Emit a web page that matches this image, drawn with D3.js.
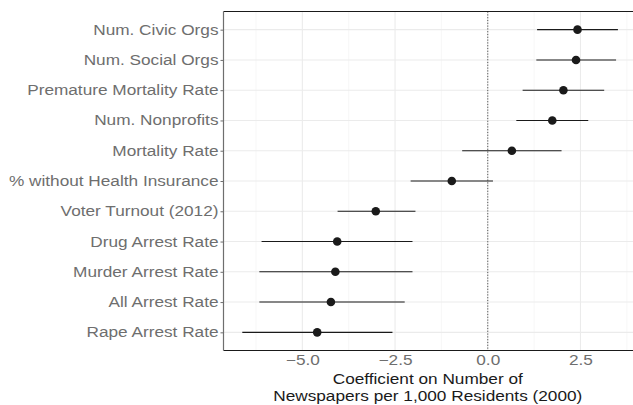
<!DOCTYPE html>
<html><head><meta charset="utf-8">
<script src="https://cdn.jsdelivr.net/npm/d3@7"></script>
<style>body{margin:0;background:#fff}svg{display:block}</style>
</head><body>
<svg id="c" width="633" height="405"></svg>
<script>
const categories = ["Num. Civic Orgs","Num. Social Orgs","Premature Mortality Rate","Num. Nonprofits","Mortality Rate","% without Health Insurance","Voter Turnout (2012)","Drug Arrest Rate","Murder Arrest Rate","All Arrest Rate","Rape Arrest Rate"];
const estimates = [2.42, 2.38, 2.04, 1.74, 0.65, -0.97, -3.02, -4.06, -4.11, -4.23, -4.60];
const lower = [1.33, 1.31, 0.94, 0.77, -0.69, -2.08, -4.05, -6.10, -6.16, -6.16, -6.62];
const upper = [3.51, 3.46, 3.14, 2.71, 1.99, 0.14, -1.95, -2.03, -2.03, -2.24, -2.57];
const xTicks = [-5.0, -2.5, 0.0, 2.5];
const xMinor = [-6.25, -3.75, -1.25, 1.25, 3.75];
const xTitle = ["Coefficient on Number of", "Newspapers per 1,000 Residents (2000)"];

const svg = d3.select("#c");
const L = 223.5, R = 636.7, T = 11.5, B = 350.5;
const SX = 1.23;
const lo = d3.min(lower), hi = d3.max(upper), pad = (hi - lo) * 0.05;
const x = d3.scaleLinear().domain([lo - pad, hi + pad]).range([L, R]);
const y = d3.scalePoint().domain(categories).range([T, B]).padding(0.6);
const font = "'Liberation Sans', Arial, sans-serif";

const g = svg.append("g");
g.selectAll(".gmin").data(xMinor).enter().append("line")
  .attr("x1", d => x(d)).attr("x2", d => x(d)).attr("y1", T).attr("y2", B)
  .attr("stroke", "#f2f2f2").attr("stroke-width", 0.6);
g.selectAll(".gmaj").data(xTicks).enter().append("line")
  .attr("x1", d => x(d)).attr("x2", d => x(d)).attr("y1", T).attr("y2", B)
  .attr("stroke", "#ebebeb").attr("stroke-width", 1.1);
g.selectAll(".gy").data(categories).enter().append("line")
  .attr("x1", L).attr("x2", R).attr("y1", d => y(d)).attr("y2", d => y(d))
  .attr("stroke", "#ebebeb").attr("stroke-width", 1.1);
g.append("line").attr("x1", x(0)).attr("x2", x(0)).attr("y1", T).attr("y2", B)
  .attr("stroke", "#555").attr("stroke-width", 1).attr("stroke-dasharray", "1.2,1.6");
g.append("line").attr("x1", L).attr("x2", R).attr("y1", T).attr("y2", T).attr("stroke", "#1a1a1a").attr("stroke-width", 1.2);
g.append("line").attr("x1", L).attr("x2", R).attr("y1", B).attr("y2", B).attr("stroke", "#1a1a1a").attr("stroke-width", 1.2);

// y axis
const yAxis = d3.axisLeft(y).tickSize(3).tickPadding(2);
const ya = svg.append("g").attr("transform", `translate(${L},0)`).call(yAxis);
ya.select(".domain").attr("stroke", "#6e6e6e").attr("stroke-width", 1.2).attr("d", `M0,${T}V${B}`);
ya.selectAll(".tick line").attr("stroke", "#6e6e6e");
ya.selectAll(".tick text").attr("fill", "#6e6e6e").style("font-family", font).style("font-size", "14px")
  .attr("x", -5 / SX).attr("transform", `scale(${SX},1)`);

// x axis
const xAxis = d3.axisBottom(x).tickValues(xTicks).tickFormat(d3.format(".1f")).tickSize(0).tickPadding(5);
const xa = svg.append("g").attr("transform", `translate(0,${B})`).call(xAxis);
xa.select(".domain").remove();
xa.selectAll(".tick text").attr("fill", "#6e6e6e").style("font-family", font).style("font-size", "14px")
  .attr("transform", `scale(${SX},1)`)
  .text(d => d < 0 ? "\u2212" + d3.format(".1f")(-d) : d3.format(".1f")(d));

// title
const tx = x(0) - 60;
xTitle.forEach((t, i) => {
  svg.append("text").attr("transform", `translate(${tx},${384 + i * 17}) scale(${SX},1)`)
    .attr("text-anchor", "middle")
    .style("font-family", font).style("font-size", "14px").attr("fill", "#1a1a1a").text(t);
});

// error bars & points
g.selectAll(".eb").data(categories).enter().append("line")
  .attr("x1", (d, i) => x(lower[i])).attr("x2", (d, i) => x(upper[i]))
  .attr("y1", d => y(d)).attr("y2", d => y(d))
  .attr("stroke", "#1a1a1a").attr("stroke-width", 1.1);
g.selectAll(".pt").data(categories).enter().append("circle")
  .attr("cx", (d, i) => x(estimates[i])).attr("cy", d => y(d)).attr("r", 4.3)
  .attr("fill", "#1a1a1a");
</script>
</body></html>
